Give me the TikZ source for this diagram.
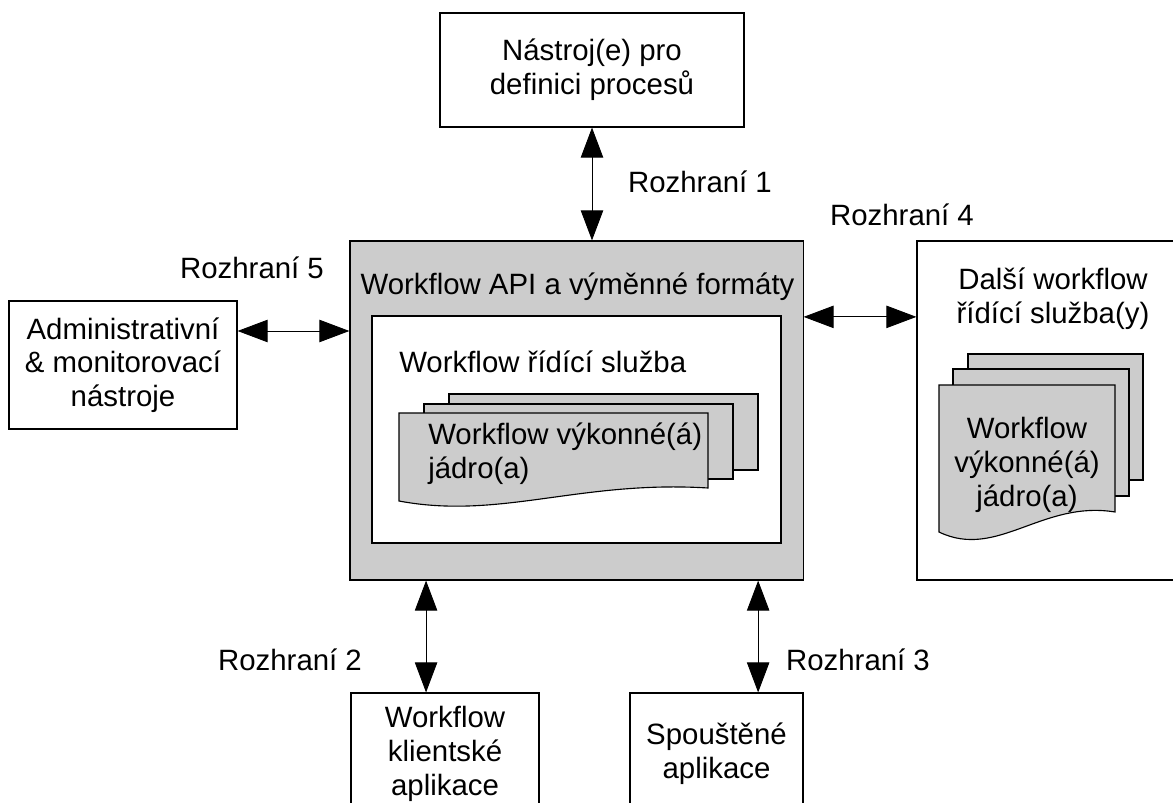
\documentclass[tikz,border=0pt]{standalone}
\usepackage{fontspec}
\setmainfont{Liberation Sans}
\usetikzlibrary{arrows.meta}

\definecolor{boxgray}{RGB}{204,204,204}

\tikzset{
  box/.style={draw, line width=0.8pt, inner sep=0pt, align=center},
  graybox/.style={box, fill=boxgray},
  sheet/.style={draw, line width=0.8pt, fill=boxgray},
  txt/.style={inner sep=0pt, align=center},
  iface/.style={{Triangle[length=0.75cm,width=0.56cm]}-{Triangle[length=0.75cm,width=0.56cm]}, line width=0.6pt},
}

\begin{document}
\begin{tikzpicture}[x=0.025cm, y=-0.025cm, font=\fontsize{20.9}{24}\selectfont]
\useasboundingbox (0,0) rectangle (1173,803);

% boxes
\node[box, minimum width=7.6cm, minimum height=2.85cm] (tools) at (592,70) {N\'astroj(e) pro\\definici proces\r{u}};
\node[graybox, minimum width=11.325cm, minimum height=8.475cm] (api) at (576.5,410.5) {};
\node[box, fill=white, minimum width=10.225cm, minimum height=5.675cm] (engine) at (576.5,429.5) {};
\node[box, minimum width=5.7cm, minimum height=3.2cm] (admin) at (123,365) {Administrativn\'i\\\& monitorovac\'i\\n\'astroje};
\node[box, minimum width=6.7cm, minimum height=8.475cm] (other) at (1051,410.5) {};
\node[box, minimum width=4.7cm, minimum height=3.05cm] (client) at (445,754) {Workflow\\klientsk\'e\\aplikace};
\node[box, minimum width=4.325cm, minimum height=3.05cm] (invoked) at (716.5,754) {Spou\v{s}t\v{e}n\'e\\aplikace};

% titles
\node[txt] (apititle) at (577.5,287) {Workflow API a v\'ym\v{e}nn\'e form\'aty};
\node[txt, anchor=west] (enginetitle) at (399,362) {Workflow \v{r}\'id\'ic\'i slu\v{z}ba};
\node[txt] (othertitle) at (1053,299) {Dal\v{s}\'i workflow\\\v{r}\'id\'ic\'i slu\v{z}ba(y)};

% stacked engines inside
\draw[sheet] (449,394) rectangle (758,470);
\draw[sheet] (424,404) rectangle (733,479);
\draw[sheet] (399,413) -- (708,413) -- (708,488) .. controls (580,480) and (500,520) .. (399,501) -- cycle;
\node[txt, align=left, anchor=west] (coreA) at (428,454) {Workflow v\'ykonn\'e(\'a)\\j\'adro(a)};

% stacked engines right
\draw[sheet] (968,354) rectangle (1143,480);
\draw[sheet] (953,369) rectangle (1129,496);
\draw[sheet] (939,385) -- (1115,385) -- (1115,512) .. controls (1042,500) and (997,560) .. (939,532) -- cycle;
\node[txt] (coreB) at (1027,465) {Workflow\\v\'ykonn\'e(\'a)\\j\'adro(a)};

% interfaces
\coordinate (if5) at ([yshift=0.85cm]admin.east);
\coordinate (if4) at ([yshift=2.34cm]other.west);
\coordinate (if2) at ([xshift=-3.76cm]api.south);
\coordinate (if3) at ([xshift=4.54cm]api.south);
\draw[iface] (tools.south) -- (tools.south |- api.north);
\draw[iface] (if5) -- (if5 -| api.west);
\draw[iface] (if4 -| api.east) -- (if4);
\draw[iface] (if2) -- (if2 |- client.north);
\draw[iface] (if3) -- (if3 |- invoked.north);

\node[txt] (lab1) at (700,182) {Rozhran\'i 1};
\node[txt] (lab2) at (290,660) {Rozhran\'i 2};
\node[txt] (lab3) at (858,660) {Rozhran\'i 3};
\node[txt] (lab4) at (902,215) {Rozhran\'i 4};
\node[txt] (lab5) at (252,268) {Rozhran\'i 5};
\end{tikzpicture}
\end{document}
